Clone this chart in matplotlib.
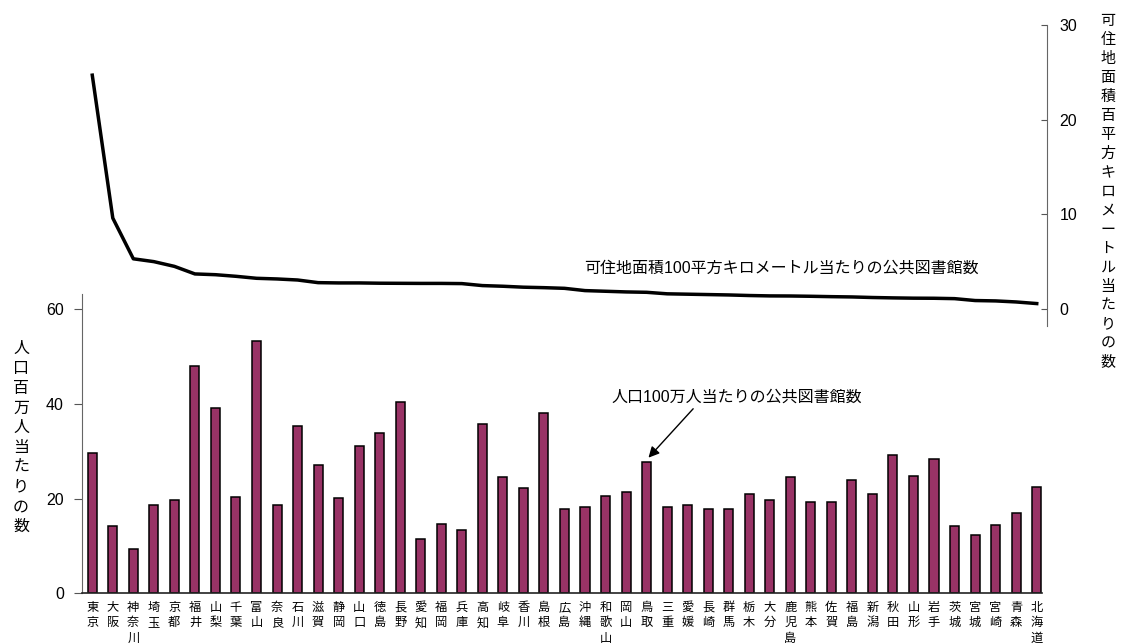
import numpy as np
import matplotlib.pyplot as plt

plt.rcParams['font.family'] = ['Liberation Sans', 'Noto Sans CJK JP']

# 都道府県（可住地面積当たりの館数の多い順）
prefs = ['東京', '大阪', '神奈川', '埼玉', '京都', '福井', '山梨', '千葉', '富山', '奈良',
         '石川', '滋賀', '静岡', '山口', '徳島', '長野', '愛知', '福岡', '兵庫', '高知',
         '岐阜', '香川', '島根', '広島', '沖縄', '和歌山', '岡山', '鳥取', '三重', '愛媛',
         '長崎', '群馬', '栃木', '大分', '鹿児島', '熊本', '佐賀', '福島', '新潟', '秋田',
         '山形', '岩手', '茨城', '宮城', '宮崎', '青森', '北海道']

# 人口100万人当たりの公共図書館数
per_million = [29.7, 14.3, 9.3, 18.6, 19.8, 48.1, 39.2, 20.4, 53.2, 18.6,
               35.4, 27.0, 20.1, 31.2, 33.8, 40.4, 11.4, 14.6, 13.4, 35.8,
               24.6, 22.3, 38.0, 17.7, 18.3, 20.5, 21.4, 27.7, 18.2, 18.7,
               17.7, 17.7, 20.9, 19.6, 24.5, 19.3, 19.2, 23.9, 21.0, 29.3,
               24.8, 28.3, 14.3, 12.3, 14.5, 16.9, 22.4]

# 可住地面積100平方キロメートル当たりの公共図書館数
per_100km2 = [24.7, 9.6, 5.3, 5.0, 4.5, 3.7, 3.62, 3.45, 3.24, 3.17,
              3.06, 2.78, 2.75, 2.75, 2.72, 2.71, 2.7, 2.7, 2.68, 2.47,
              2.4, 2.3, 2.25, 2.18, 1.94, 1.87, 1.8, 1.76, 1.6, 1.56,
              1.52, 1.48, 1.42, 1.38, 1.37, 1.34, 1.3, 1.27, 1.21, 1.17,
              1.14, 1.13, 1.09, 0.89, 0.85, 0.74, 0.57]

W, H = 1125, 644
fig = plt.figure(figsize=(W / 100, H / 100), dpi=100)


def box(l, t, r, b):
    return [l / W, 1 - b / H, (r - l) / W, (b - t) / H]


x = np.arange(len(prefs))

# 棒グラフ（左軸）
ax = fig.add_axes(box(82, 294, 1042, 593.3))
ax.bar(x, per_million, width=0.44, color='#993366', edgecolor='black', linewidth=1.1)
ax.set_xlim(-0.5, 46.26)
ax.set_ylim(0, 63.2)
ax.set_yticks([0, 20, 40, 60])
ax.set_xticks(x, ['\n'.join(p) for p in prefs], fontsize=8.8, linespacing=1.4)
ax.tick_params(axis='x', length=0, pad=6)
ax.tick_params(axis='y', direction='out', length=6, width=0.8, color='#555555',
               labelsize=11.5, pad=7)
for s in ['top', 'right']:
    ax.spines[s].set_visible(False)
ax.spines['left'].set_color('#666666')
ax.spines['bottom'].set_color('#222222')
ax.spines['bottom'].set_linewidth(1.2)

# 折れ線（右軸）
ax2 = fig.add_axes(box(82, 25, 1047, 326), facecolor='none')
ax2.plot(x, per_100km2, color='black', lw=2.5, solid_joinstyle='round')
ax2.set_xlim(-0.5, 46.5)
ax2.set_ylim(-1.8, 30)
ax2.set_xticks([])
ax2.yaxis.tick_right()
ax2.set_yticks([0, 10, 20, 30])
ax2.tick_params(axis='y', direction='in', length=4, width=0.8, color='#555555',
                labelsize=11.5, pad=9)
for s in ['top', 'left', 'bottom']:
    ax2.spines[s].set_visible(False)
ax2.spines['right'].set_color('#666666')

# 軸ラベル（縦書き）
fig.text(21 / W, 1 - 341 / H, '\n'.join('人口百万人当たりの数'), ha='center', va='top',
         fontsize=11.5, linespacing=1.4)
fig.text(1108 / W, 1 - 14 / H, '\n'.join('可住地面積百平方キロメートル当たりの数'),
         ha='center', va='top', fontsize=10.8, linespacing=1.45)

# 系列ラベル
fig.text(781 / W, 1 - 268 / H, '可住地面積100平方キロメートル当たりの公共図書館数',
         ha='center', va='center', fontsize=11.5)
fig.text(737 / W, 1 - 397 / H, '人口100万人当たりの公共図書館数',
         ha='center', va='center', fontsize=11.5)
ax.annotate('', xy=(27, 28.2), xytext=(29.36, 39.4),
            arrowprops=dict(arrowstyle='-|>', color='black', lw=1, mutation_scale=16))

fig.savefig('out.png', dpi=100)
